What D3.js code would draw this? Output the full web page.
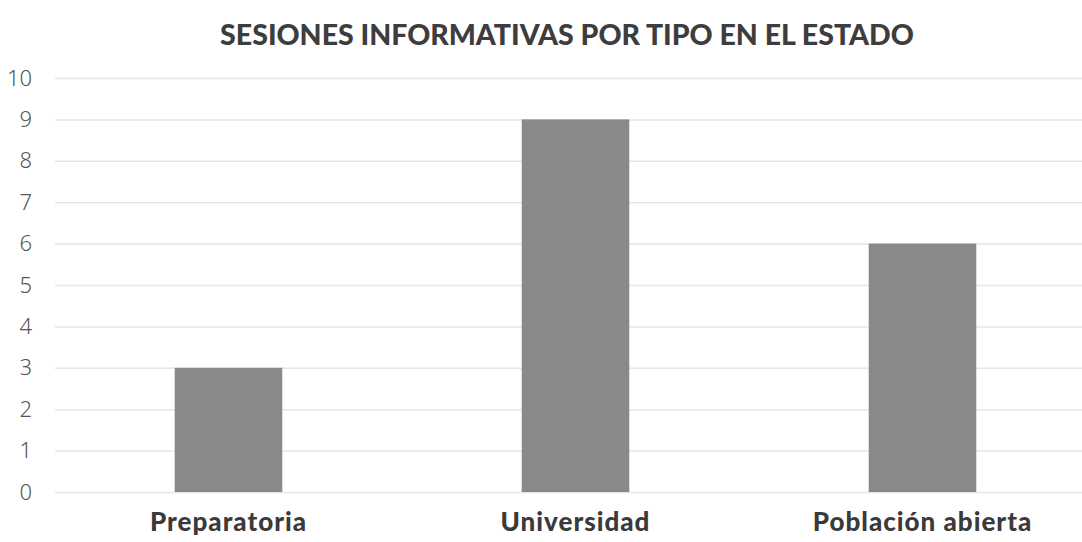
<!DOCTYPE html>
<html>
<head>
<meta charset="utf-8">
<script src="https://cdn.jsdelivr.net/npm/d3@7"></script>
<style>
  body { margin: 0; background: #fff; }
</style>
</head>
<body>
<div id="chart"></div>
<script>
// data
var categories = ["Preparatoria", "Universidad", "Población abierta"];
var sesiones = [3, 9, 6];
var yTicks = [0, 1, 2, 3, 4, 5, 6, 7, 8, 9, 10];
var titulo = "SESIONES INFORMATIVAS POR TIPO EN EL ESTADO";

var W = 1082, H = 542;
var margin = { top: 78, right: -14, bottom: 50, left: 55 },
    width = W - margin.left - margin.right,
    height = H - margin.top - margin.bottom;

var svg = d3.select("#chart")
    .append("svg")
    .attr("width", W)
    .attr("height", H)
    .style("font-family", "Lato, 'Open Sans', sans-serif");

svg.append("text")
    .attr("x", 567)
    .attr("y", 45)
    .attr("text-anchor", "middle")
    .style("font-size", "28.5px")
    .style("font-weight", "900")
    .style("fill", "#3d3d3d")
    .text(titulo);

var g = svg.append("g")
    .attr("transform", "translate(" + margin.left + "," + margin.top + ")");

var x = d3.scaleBand()
    .domain(categories)
    .range([0, width])
    .paddingInner(0.69)
    .paddingOuter(0.345);

var y = d3.scaleLinear()
    .domain([0, 10])
    .range([height, 0]);

// gridlines
g.append("g")
    .attr("class", "grid")
    .call(d3.axisLeft(y).tickValues(yTicks).tickSize(-width).tickFormat(""))
    .call(function (s) { s.select(".domain").remove(); })
    .selectAll("line")
    .attr("stroke", "#e6e6e6")
    .attr("stroke-width", 1.5);

// y axis labels
g.append("g")
    .call(d3.axisLeft(y).tickValues(yTicks).tickSize(0).tickPadding(23))
    .call(function (s) { s.select(".domain").remove(); })
    .selectAll("text")
    .style("font-family", "'Noto Sans', sans-serif")
    .style("font-weight", "300")
    .style("font-size", "22px")
    .style("fill", "#555");

// bars
g.selectAll("rect.bar")
    .data(sesiones)
    .enter()
    .append("rect")
    .attr("class", "bar")
    .attr("x", function (d, i) { return x(categories[i]); })
    .attr("y", function (d) { return y(d); })
    .attr("width", x.bandwidth())
    .attr("height", function (d) { return height - y(d); })
    .attr("fill", "#898989");

// x axis labels
g.append("g")
    .attr("transform", "translate(0," + height + ")")
    .call(d3.axisBottom(x).tickSize(0).tickPadding(21))
    .call(function (s) { s.select(".domain").remove(); })
    .selectAll("text")
    .style("font-family", "Lato, sans-serif")
    .style("font-weight", "900")
    .style("font-size", "26px")
    .style("letter-spacing", "1px")
    .style("fill", "#3a3a3a");
</script>
</body>
</html>
